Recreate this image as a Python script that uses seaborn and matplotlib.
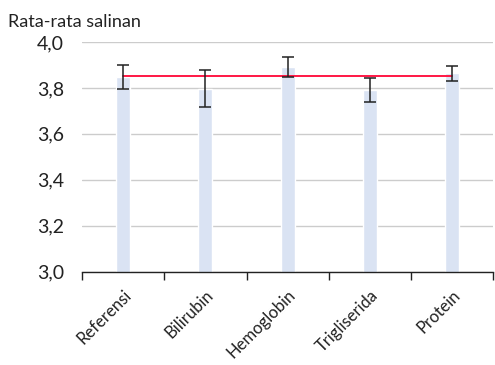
import matplotlib
matplotlib.use("Agg")
import matplotlib.pyplot as plt
import matplotlib.transforms as mtransforms
import seaborn as sns
import pandas as pd

categories = ["Referensi", "Bilirubin", "Hemoglobin", "Trigliserida", "Protein"]
means = [3.848, 3.797, 3.891, 3.790, 3.863]
errors = [0.052, 0.081, 0.045, 0.052, 0.031]
reference_level = 3.852
y_ticks = [3.0, 3.2, 3.4, 3.6, 3.8, 4.0]
y_labels = ["3,0", "3,2", "3,4", "3,6", "3,8", "4,0"]

sns.set_theme(style="white")
plt.rcParams["font.family"] = ["Lato", "DejaVu Sans"]

fig = plt.figure(figsize=(4.95, 3.65), dpi=100)
ax = fig.add_axes([0.166, 0.256, 0.830, 0.629])

df = pd.DataFrame({"kategori": categories, "rata": means})
sns.barplot(data=df, x="kategori", y="rata", color="#dae3f3", saturation=1,
            width=0.17, edgecolor="white", linewidth=1.0, ax=ax)
for patch in ax.patches:
    patch.set_zorder(2)

xs = list(range(len(categories)))
ax.errorbar(xs, means, yerr=errors, fmt="none", ecolor="#222222",
            elinewidth=1.1, capsize=4, capthick=1.1, zorder=5)

sns.lineplot(x=[0, len(categories) - 1], y=[reference_level, reference_level],
             color="#ff1744", linewidth=1.4, ax=ax)
for line in ax.lines[-1:]:
    line.set_zorder(4)

ax.set_ylim(3.0, 4.0)
ax.set_xlim(-0.5, len(categories) - 0.5)
ax.set_yticks(y_ticks)
ax.set_yticklabels(y_labels, fontsize=14, color="#222222")
ax.yaxis.grid(True, color="#cccccc", linewidth=1.0, zorder=0)
ax.set_axisbelow(True)

ax.set_xticks(xs)
ax.set_xticklabels(categories, rotation=45, ha="right", rotation_mode="anchor",
                   fontsize=12, color="#222222")
shift = mtransforms.ScaledTranslation(-7 / 100, 0, fig.dpi_scale_trans)
for lbl in ax.get_xticklabels():
    lbl.set_transform(lbl.get_transform() + shift)
ax.set_xticks([i - 0.5 for i in range(len(categories) + 1)], minor=True)
ax.tick_params(axis="x", which="major", length=0, pad=11)
ax.tick_params(axis="x", which="minor", length=6, width=1.0, color="#222222",
               direction="out", bottom=True)
ax.tick_params(axis="y", length=0, pad=13)

for side in ["left", "right", "top"]:
    ax.spines[side].set_visible(False)
ax.spines["bottom"].set_color("#222222")
ax.spines["bottom"].set_linewidth(1.0)

ax.set_xlabel("")
ax.set_ylabel("")
fig.text(0.016, 0.926, "Rata-rata salinan", fontsize=13, color="#222222",
         ha="left", va="baseline")

fig.savefig("out.png", dpi=100)
